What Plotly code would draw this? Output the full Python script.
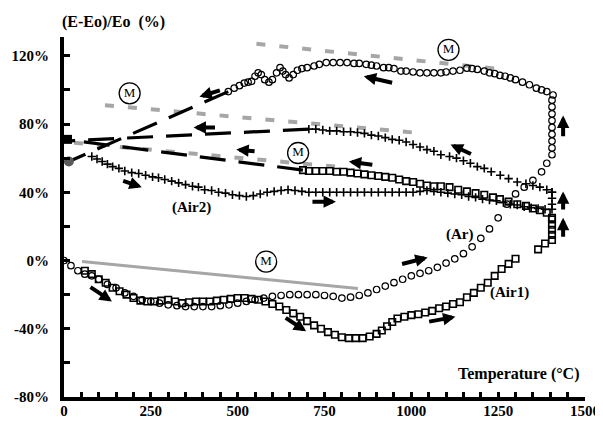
import plotly.graph_objects as go

# ---------------- data ----------------
ar_heat_x = [0, 20, 40, 60, 80, 100, 125, 150, 175, 200, 225, 250, 275, 300, 325, 350, 375, 400, 425, 450,
             475, 500, 525, 550, 575, 600, 625, 650, 675, 700, 725, 750, 775, 800, 825, 850, 875, 900, 925, 950,
             975, 1000, 1025, 1050, 1075, 1100, 1125, 1150, 1175, 1200, 1225, 1250, 1275, 1300, 1325, 1350, 1375,
             1390, 1405, 1405, 1405, 1405, 1405, 1405, 1405, 1405, 1405]
ar_heat_y = [0, -3, -6, -8, -9, -11, -14, -16, -19, -21, -23, -24, -25, -26, -26.5, -27, -27, -27, -27, -26.5,
             -26, -25, -24, -23, -22, -21, -20.5, -20, -20, -20, -20, -20.5, -21, -22, -21.5, -20.5, -19, -17, -15, -13,
             -11, -9, -7.5, -6, -4, -1.5, 1, 4, 8, 13, 18.5, 25, 33, 39, 43, 47, 52,
             57, 62, 66, 70, 74, 78, 82, 86, 90, 94]

ar_cool_x = [1408, 1390, 1375, 1360, 1340, 1320, 1300, 1285, 1270, 1255, 1240, 1225, 1210, 1190, 1175, 1160,
             1140, 1120, 1100, 1085, 1065, 1045, 1025, 1005, 985, 970, 950, 935, 920, 900, 885, 870, 850, 835,
             815, 795, 775, 755, 735, 720, 700, 685, 672, 660, 648, 638, 630, 622, 612, 600, 590, 578, 568, 559,
             550, 540, 530, 519, 505, 490, 473]
ar_cool_y = [97, 99, 100, 101, 103, 104.5, 106, 107, 108, 108.5, 109.5, 110, 111, 112, 112.5, 112.7,
             111.5, 111, 110.5, 110, 110, 110, 110, 110.5, 111, 111, 112.5, 113, 113, 114, 114.5, 115, 115.5, 115.5,
             116, 116, 116, 116, 115, 114, 113, 112.5, 111.5, 109, 107, 109, 111, 113, 110, 106, 104.5, 106, 109, 110,
             108, 105, 104.5, 104, 102.5, 101, 99]

air1_heat_x = [60, 80, 100, 120, 140, 160, 180, 200, 220, 240, 260, 280, 300, 320, 340, 360, 380, 400, 420, 440,
               460, 480, 500, 520, 540, 560, 580, 600, 620, 640, 660, 680, 700, 720, 740, 760, 780, 800, 820, 840,
               860, 880, 900, 915, 930, 945, 960, 980, 1000, 1020, 1040, 1060, 1080, 1100, 1120, 1140, 1160, 1180,
               1200, 1220, 1240, 1260, 1280, 1300,
               1365, 1385, 1405, 1405, 1405, 1405, 1405]
air1_heat_y = [-6, -8, -11, -13, -16, -18, -20, -22, -23.5, -24, -24, -23.5, -23, -24, -25, -24.5, -24, -24, -24, -23.5,
               -23, -22.5, -22, -22, -22.5, -23, -24, -25.5, -27, -29, -31, -33, -35.5, -38, -40, -42, -43.5, -45, -45.5, -45.5,
               -45.5, -44.5, -43, -41, -38.5, -36, -34, -33, -32, -31.5, -30.5, -29.5, -28, -27, -25.5, -24.5, -21.5, -19,
               -16, -13, -9, -5, -2, 1,
               6.5, 10, 12, 15, 18, 21, 24]

air1_cool_x = [1405, 1390, 1370, 1350, 1330, 1305, 1280, 1255, 1235, 1210, 1185, 1160, 1135, 1110, 1085, 1065,
               1045, 1025, 1005, 985, 965, 945, 925, 905, 885, 865, 845, 825, 805, 785, 765, 745, 725, 705, 688]
air1_cool_y = [25, 28, 29.5, 30.5, 32, 33, 34.5, 36, 37, 38.5, 39.5, 40.5, 41.5, 43, 43.5, 43.5,
               44, 45, 46, 46.5, 47.5, 48.5, 49, 49.5, 50, 50.5, 51, 51.5, 52, 52, 52.5, 52.5, 52.5, 52.5, 53]

air2_heat_x = [80, 95, 110, 125, 140, 158, 175, 195, 215, 235, 255, 272, 290, 310, 330, 350, 370, 387, 405, 425,
               445, 465, 485, 505, 525, 545, 565, 585, 605, 625, 645, 665, 685, 705, 725, 745, 765, 785, 805, 825,
               845, 865, 885, 905, 925, 945, 965, 985, 1005, 1025, 1045, 1065, 1085, 1105, 1125, 1145, 1165, 1185,
               1205, 1225, 1245, 1265, 1285, 1305, 1325, 1345, 1365, 1385, 1405, 1405, 1405, 1405]
air2_heat_y = [61, 59.5, 58, 56.5, 55, 54, 52.5, 51.5, 51, 50, 49, 48.5, 47.5, 46.5, 45.5, 44.5, 43.5, 43, 41.5, 41,
               40, 39.5, 38.5, 38, 37.5, 38, 39, 40, 40.5, 41, 41.5, 41, 40.5, 40, 40, 40, 40, 40, 40, 40,
               40, 40, 40, 40, 40, 40, 40, 40, 40, 40.5, 41, 40.5, 40, 39.5, 39, 38.5, 37.5, 37,
               36, 35.5, 35, 34, 33, 32.5, 31.5, 31, 30.5, 30, 30, 33, 36.5, 40]

air2_cool_x = [1405, 1390, 1370, 1350, 1330, 1305, 1280, 1256, 1230, 1210, 1190, 1170, 1150, 1130, 1110, 1085,
               1065, 1045, 1025, 1005, 985, 965, 945, 925, 905, 885, 865, 845, 825, 805, 785, 765, 745, 725, 705]
air2_cool_y = [40, 41.5, 43, 44, 45, 46, 48, 50, 52, 54, 55, 57, 58.5, 60, 61, 62,
               64, 65, 66.5, 68, 69.5, 70.5, 71, 72, 73, 73.5, 74.5, 75, 75.5, 75.5, 76, 76, 76.5, 77, 77]

# black dashed extrapolations (cooling curves back to 0 degC)
ext_ar_x, ext_ar_y = [473, 14], [99, 58]
ext_air2_x, ext_air2_y = [705, 0], [77, 70]
ext_air1_x, ext_air1_y = [688, 0], [53, 71]

# grey "M" model lines
m1_x, m1_y = [554, 1240], [127, 112.5]
m2_x, m2_y = [118, 1007], [91, 75]
m3_x, m3_y = [29, 783], [69, 55]
m4_x, m4_y = [52, 846], [-0.6, -16.4]

start_dot_x, start_dot_y = [14], [58]
start_block_x, start_block_y = [10], [71]

m_label_x = [189, 1107, 674, 582]
m_label_y = [98, 123.5, 63, -0.6]

# arrows: tail -> head
arrow_tail_x = [949, 453, 439, 553, 892, 1176, 1437, 1437, 1437, 166, 711, 969, 72, 634, 1047]
arrow_tail_y = [104, 100, 78, 64, 56, 62, 72, 29, 13, 47, 34.5, -2.3, -15, -33, -36]
arrow_head_x = [863, 390, 373, 496, 820, 1113, 1437, 1437, 1437, 224, 783, 1047, 138, 697, 1127]
arrow_head_y = [108, 96, 78, 65, 58, 68, 85, 40.5, 25, 43, 34.5, 1.8, -24, -41.5, -33]

series_labels = ["(Air2)", "(Ar)", "(Air1)"]
series_label_x = [367, 1139, 1282]
series_label_y = [31, 15, -18.7]

x_tickvals = list(range(0, 1501, 50))
x_ticktext = [f"<b>{v}</b>" if v % 250 == 0 else "" for v in x_tickvals]
y_tickvals = list(range(-80, 121, 20))
y_ticktext = [f"<b>{v}%</b>" if v % 40 == 0 else "" for v in y_tickvals]

SERIF = "Liberation Serif"
GREY = "#a6a6a6"

fig = go.Figure()

def line(x, y, color, width, dash):
    fig.add_trace(go.Scatter(x=x, y=y, mode="lines", line=dict(color=color, width=width, dash=dash),
                             showlegend=False, hoverinfo="skip"))

# grey model lines
line(m1_x, m1_y, GREY, 4, "9px,14px")
line(m2_x, m2_y, GREY, 4, "9px,14px")
line(m3_x, m3_y, GREY, 4, "9px,14px")
line(m4_x, m4_y, GREY, 3, "solid")

# black dashed extrapolations
line(ext_ar_x, ext_ar_y, "black", 3.2, "26px,13px")
line(ext_air2_x, ext_air2_y, "black", 3.2, "26px,13px")
line(ext_air1_x, ext_air1_y, "black", 3.2, "26px,13px")

def markers(x, y, symbol, size, lw):
    fig.add_trace(go.Scatter(x=x, y=y, mode="markers",
                             marker=dict(symbol=symbol, size=size, color="black",
                                         line=dict(color="black", width=lw)),
                             showlegend=False, hoverinfo="skip"))

markers(ar_heat_x, ar_heat_y, "circle-open", 6.5, 1.2)
markers(ar_cool_x, ar_cool_y, "circle-open", 6.5, 1.2)
markers(air1_heat_x, air1_heat_y, "square-open", 6.5, 1.6)
markers(air1_cool_x, air1_cool_y, "square-open", 6.5, 1.6)
markers(air2_heat_x, air2_heat_y, "cross-thin-open", 6, 1.6)
markers(air2_cool_x, air2_cool_y, "cross-thin-open", 6, 1.6)

fig.add_trace(go.Scatter(x=start_dot_x, y=start_dot_y, mode="markers",
                         marker=dict(symbol="circle", size=10, color="#5a5a5a"),
                         showlegend=False, hoverinfo="skip"))
fig.add_trace(go.Scatter(x=start_block_x, y=start_block_y, mode="markers",
                         marker=dict(symbol="square", size=9, color="black"),
                         showlegend=False, hoverinfo="skip"))

# circled M labels
fig.add_trace(go.Scatter(x=m_label_x, y=m_label_y, mode="markers+text", text=["M"] * len(m_label_x),
                         textposition="middle center",
                         textfont=dict(family=SERIF, size=13, color="black"),
                         marker=dict(symbol="circle-open", size=21, color="black",
                                     line=dict(color="black", width=1.3)),
                         showlegend=False, hoverinfo="skip"))

# series labels
for t, x, y in zip(series_labels, series_label_x, series_label_y):
    fig.add_annotation(x=x, y=y, text=f"<b>{t}</b>", showarrow=False,
                       font=dict(family=SERIF, size=15, color="black"))

# arrows
for tx, ty, hx, hy in zip(arrow_tail_x, arrow_tail_y, arrow_head_x, arrow_head_y):
    fig.add_annotation(x=hx, y=hy, ax=tx, ay=ty, xref="x", yref="y", axref="x", ayref="y",
                       text="", showarrow=True, arrowhead=2, arrowsize=0.62, arrowwidth=4,
                       arrowcolor="black", standoff=0, startstandoff=0)

# axis titles (centred anchors)
fig.add_annotation(xref="paper", yref="paper", x=0.095, y=1.0, yshift=15,
                   xanchor="center", yanchor="middle",
                   text="<b>(E-Eo)/Eo\u00a0\u00a0(%)</b>", showarrow=False,
                   font=dict(family=SERIF, size=16, color="black"))
fig.add_annotation(x=1308, y=-66.6, text="<b>Temperature (°C)</b>", showarrow=False,
                   font=dict(family=SERIF, size=16, color="black"))

fig.update_xaxes(range=[0, 1500], showline=True, linewidth=4, linecolor="black", showgrid=False,
                 zeroline=False, ticks="inside", ticklen=5, tickwidth=3, tickcolor="black",
                 tickvals=x_tickvals, ticktext=x_ticktext, automargin=False, ticklabelstandoff=-3,
                 tickfont=dict(family=SERIF, size=15, color="black"))
fig.update_yaxes(range=[-80, 131], showline=True, linewidth=4, linecolor="black", showgrid=False,
                 zeroline=False, ticks="inside", ticklen=6, tickwidth=3, tickcolor="black",
                 tickvals=y_tickvals, ticktext=y_ticktext, automargin=False, ticklabelstandoff=8,
                 tickfont=dict(family=SERIF, size=15, color="black"))

# the page body adds an 8px offset, so the figure is slightly smaller than the window
fig.update_layout(width=595, height=422, margin=dict(l=56, r=18, t=29, b=33),
                  paper_bgcolor="white", plot_bgcolor="white", showlegend=False,
                  font=dict(family=SERIF))

fig.write_html("out.html")
